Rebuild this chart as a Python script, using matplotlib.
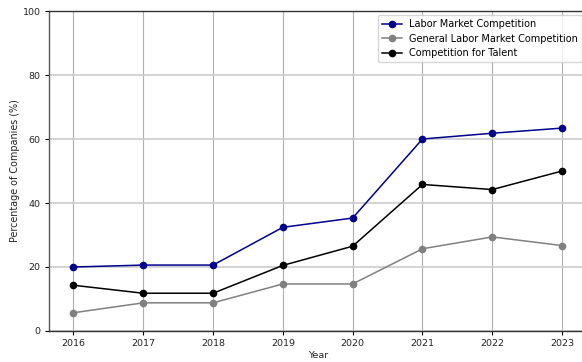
import matplotlib
matplotlib.use("Agg")
import matplotlib.pyplot as plt

years = [2016, 2017, 2018, 2019, 2020, 2021, 2022, 2023]
labor_market = [20.0, 20.6, 20.6, 32.4, 35.3, 60.0, 61.8, 63.4]
general_labor = [5.7, 8.8, 8.8, 14.7, 14.7, 25.7, 29.4, 26.7]
talent = [14.3, 11.8, 11.8, 20.5, 26.5, 45.8, 44.2, 50.0]

fig = plt.figure(figsize=(5.82, 3.62), dpi=100)
# axes extends slightly past the right edge as in the reference
ax = fig.add_axes([49/582, 1 - 331/362, (586.5 - 49)/582, (331 - 11)/362])

ax.plot(years, labor_market, marker='o', color='#00008b', lw=1.1, ms=4.5, label='Labor Market Competition')
ax.plot(years, general_labor, marker='o', color='#808080', lw=1.1, ms=4.5, label='General Labor Market Competition')
ax.plot(years, talent, marker='o', color='black', lw=1.1, ms=4.5, label='Competition for Talent')

ax.set_ylim(0, 100)
ax.set_xticks(years)
ax.set_yticks([0, 20, 40, 60, 80, 100])
ax.tick_params(labelsize=6.8, length=3, width=0.8, pad=3, labelcolor='#222222')
ax.set_xlabel('Year', fontsize=6.8, labelpad=2, color='#222222')
ax.set_ylabel('Percentage of Companies (%)', fontsize=6.9, labelpad=2, color='#222222')

ax.xaxis.grid(True, color='#b0b0b0', lw=0.8)
ax.yaxis.grid(True, color='#cccccc', lw=1.2)
ax.set_axisbelow(True)
for s in ax.spines.values():
    s.set_color('#333333')
    s.set_linewidth(1.0)
ax.spines['left'].set_color('#555555')

ax.legend(loc='upper right', fontsize=7.0, framealpha=0.8,
          handlelength=2, borderpad=0.4, labelspacing=0.45, borderaxespad=0.45)

fig.savefig('out.png', dpi=100)
